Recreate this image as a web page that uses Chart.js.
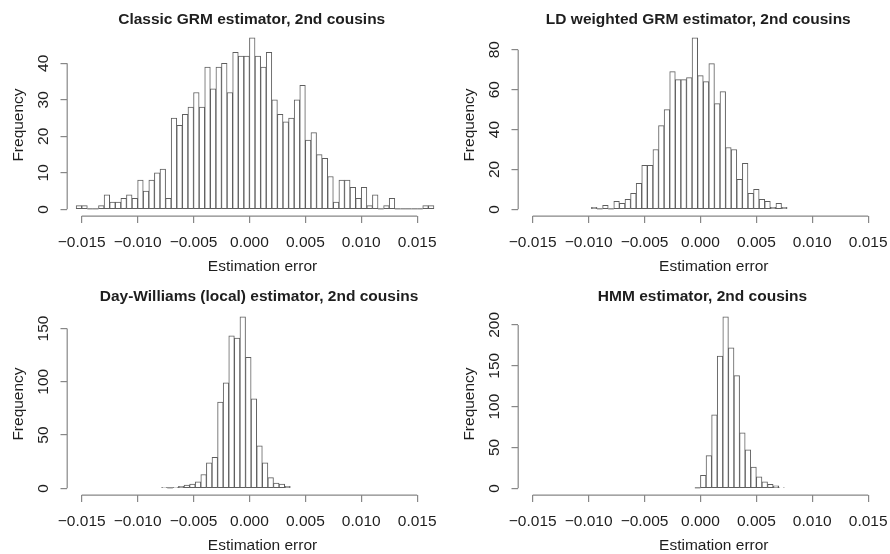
<!DOCTYPE html>
<html lang="en">
<head>
<meta charset="UTF-8" />
<title>Estimation error, 2nd cousins</title>
<script src="https://cdn.jsdelivr.net/npm/chart.js"></script>
<style>
  body { margin: 0; background: #fff; }
  canvas { position: absolute; }
</style>
</head>
<body>
<canvas id="classic" width="451" height="279" style="left:0;top:0"></canvas>
<canvas id="ld" width="439" height="279" style="left:451px;top:0"></canvas>
<canvas id="dw" width="451" height="275" style="left:0;top:279px"></canvas>
<canvas id="hmm" width="439" height="275" style="left:451px;top:279px"></canvas>
<script>
  // histogram bins: width 0.0005, first left edge per panel
  const binWidth = 0.0005;
  const xTicks = [-0.015, -0.01, -0.005, 0, 0.005, 0.01, 0.015];

  const classicStart = -0.0155;
  const classicCounts = [1, 1, 0, 0, 1, 4, 2, 2, 3, 4, 3, 8, 5, 8, 10, 11, 3, 25, 23, 26, 28, 32, 28, 39, 33, 39, 40, 32, 43, 42, 42,
    47, 42, 39, 43, 30, 26, 24, 25, 30, 34, 19, 21, 15, 14, 9, 2, 8, 8, 6, 3, 6, 1, 4, 0, 1, 3, 0, 0, 0, 0, 0, 1, 1];
  const classicYTicks = [0, 10, 20, 30, 40];

  const ldStart = -0.00975;
  const ldCounts = [1, 0, 2, 0, 4, 3, 5, 8, 13, 22, 22, 30, 42, 50, 69, 65, 65, 66, 86, 67, 64, 73, 53, 59, 31, 30, 15, 23, 8, 10, 5, 4, 1, 3, 1];
  const ldYTicks = [0, 20, 40, 60, 80];

  const dwStart = -0.00785;
  const dwCounts = [1, 0, 1, 2, 3, 4, 6, 13, 24, 29, 81, 99, 143, 141, 161, 123, 84, 40, 24, 10, 5, 4, 2];
  const dwYTicks = [0, 50, 100, 150];

  const hmmStart = -0.0005;
  const hmmCounts = [0, 16, 40, 90, 162, 210, 172, 138, 68, 47, 26, 14, 8, 5, 3, 1];
  const hmmYTicks = [0, 50, 100, 150, 200];

  const axisColor = "#878787";
  const barColor = "#5e5e5e";
  const textColor = "#1e1e1e";
  const fontFamily = '"Liberation Sans", Arial, Helvetica, sans-serif';
  const tickLen = 6.7;

  function fmt(v) {
    return (v < 0 ? "\u2212" : "") + Math.abs(v).toFixed(3);
  }

  function drawPanel(id, cfg) {
    const canvas = document.getElementById(id);
    const W = canvas.width, H = canvas.height;
    const ymax = Math.max(...cfg.counts);
    const points = cfg.counts.map((c, i) => ({ x: cfg.start + (i + 0.5) * binWidth, y: c }));

    const rAxes = {
      id: "rAxes",
      beforeDatasetsDraw(chart) {
        // R draws empty bins as a flat segment on the baseline
        const ctx = chart.ctx;
        const xs = chart.scales.x, ys = chart.scales.y;
        const y0 = ys.getPixelForValue(0) - 0.5;
        ctx.save();
        ctx.strokeStyle = barColor;
        ctx.lineWidth = 1;
        ctx.beginPath();
        cfg.counts.forEach((c, i) => {
          if (c !== 0) return;
          ctx.moveTo(xs.getPixelForValue(cfg.start + i * binWidth), y0);
          ctx.lineTo(xs.getPixelForValue(cfg.start + (i + 1) * binWidth), y0);
        });
        ctx.stroke();
        ctx.restore();
      },
      afterDraw(chart) {
        const ctx = chart.ctx;
        const xs = chart.scales.x, ys = chart.scales.y;
        const a = chart.chartArea;
        ctx.save();
        ctx.strokeStyle = axisColor;
        ctx.lineWidth = 1.2;
        ctx.beginPath();
        ctx.moveTo(xs.getPixelForValue(xTicks[0]), a.bottom);
        ctx.lineTo(xs.getPixelForValue(xTicks[xTicks.length - 1]), a.bottom);
        ctx.moveTo(a.left, ys.getPixelForValue(cfg.yTicks[0]));
        ctx.lineTo(a.left, ys.getPixelForValue(cfg.yTicks[cfg.yTicks.length - 1]));
        ctx.stroke();

        ctx.fillStyle = textColor;
        ctx.textAlign = "center";
        ctx.textBaseline = "middle";
        ctx.font = "15.5px " + fontFamily;
        xTicks.forEach(v => ctx.fillText(fmt(v), xs.getPixelForValue(v), 242.7));
        ctx.fillText("Estimation error", cfg.xlabX, 267);
        cfg.yTicks.forEach(v => {
          ctx.save();
          ctx.translate(43.3, ys.getPixelForValue(v));
          ctx.rotate(-Math.PI / 2);
          ctx.fillText(String(v), 0, 0);
          ctx.restore();
        });
        ctx.save();
        ctx.translate(18.3, 125);
        ctx.rotate(-Math.PI / 2);
        ctx.fillText("Frequency", 0, 0);
        ctx.restore();

        ctx.font = "bold 15.5px " + fontFamily;
        ctx.fillText(cfg.title, cfg.titleX, cfg.titleY);
        ctx.restore();
      }
    };

    new Chart(canvas, {
      type: "bar",
      data: {
        datasets: [{
          data: points,
          backgroundColor: "#ffffff",
          borderColor: barColor,
          borderWidth: 1,
          borderSkipped: false,
          barPercentage: 1,
          categoryPercentage: 1,
          clip: false
        }]
      },
      options: {
        responsive: false,
        animation: false,
        layout: { padding: { left: 67.2 - tickLen, top: 30.9, right: W - 431.7, bottom: H - 216.2 - tickLen } },
        plugins: { legend: { display: false }, tooltip: { enabled: false } },
        scales: {
          x: {
            type: "linear",
            offset: false,
            min: -0.0163,
            max: 0.0163,
            afterBuildTicks: s => { s.ticks = xTicks.map(v => ({ value: v })); },
            afterFit: s => { s.height = tickLen; },
            ticks: { display: false },
            grid: { offset: false, drawOnChartArea: false, drawTicks: true, tickLength: tickLen, color: axisColor, lineWidth: 1.2 },
            border: { display: false }
          },
          y: {
            min: -0.04 * ymax,
            max: 1.04 * ymax,
            afterBuildTicks: s => { s.ticks = cfg.yTicks.map(v => ({ value: v })); },
            afterFit: s => { s.width = tickLen; },
            ticks: { display: false },
            grid: { drawOnChartArea: false, drawTicks: true, tickLength: tickLen, color: axisColor, lineWidth: 1.2 },
            border: { display: false }
          }
        }
      },
      plugins: [rAxes]
    });
  }

  drawPanel("classic", { counts: classicCounts, start: classicStart, yTicks: classicYTicks,
    title: "Classic GRM estimator, 2nd cousins", titleX: 251.7, titleY: 20, xlabX: 262.5 });
  drawPanel("ld", { counts: ldCounts, start: ldStart, yTicks: ldYTicks,
    title: "LD weighted GRM estimator, 2nd cousins", titleX: 247.3, titleY: 20, xlabX: 262.8 });
  drawPanel("dw", { counts: dwCounts, start: dwStart, yTicks: dwYTicks,
    title: "Day-Williams (local) estimator, 2nd cousins", titleX: 259, titleY: 17.7, xlabX: 262.5 });
  drawPanel("hmm", { counts: hmmCounts, start: hmmStart, yTicks: hmmYTicks,
    title: "HMM estimator, 2nd cousins", titleX: 251.5, titleY: 17.7, xlabX: 262.8 });
</script>
</body>
</html>
